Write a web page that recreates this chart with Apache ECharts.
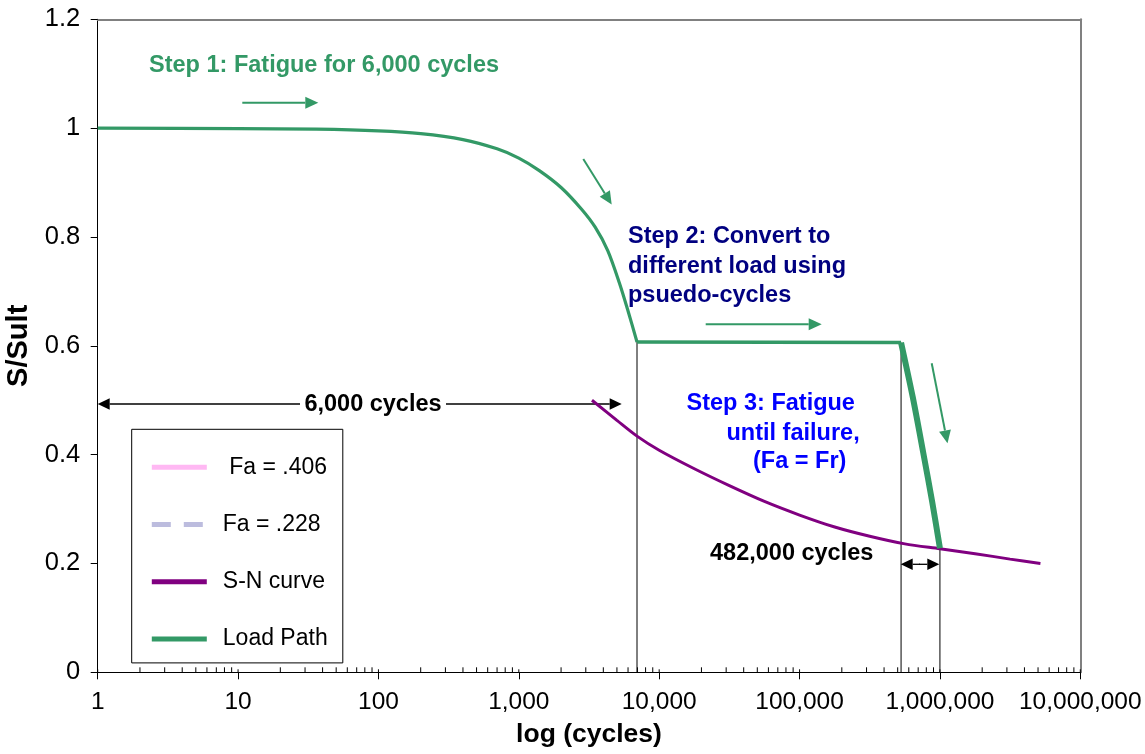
<!DOCTYPE html>
<html>
<head>
<meta charset="utf-8">
<title>Residual strength fatigue load path</title>
<script src="https://cdn.jsdelivr.net/npm/echarts@6/dist/echarts.min.js"></script>
<style>
  html, body { margin: 0; padding: 0; background: #ffffff; }
  #chart { width: 1145px; height: 754px; }
</style>
</head>
<body>
<div id="chart"></div>
<script>
const FONT = '"Liberation Sans", Arial, Helvetica, sans-serif';

// Axis tick labels
const xTickLabels = ['1', '10', '100', '1,000', '10,000', '100,000', '1,000,000', '10,000,000'];
const yTickLabels = ['0', '0.2', '0.4', '0.6', '0.8', '1', '1.2'];

// Load path, step 1: fatigue at the first load level (S/Sult = 1)
const step1Cycles = [1, 10, 36, 100, 200, 400, 700, 1000, 1400, 2000, 2800, 3500, 4300, 5200, 6000, 6950];
const step1Stress = [1.0, 0.999, 0.998, 0.995, 0.99, 0.979, 0.962, 0.945, 0.922, 0.891, 0.851, 0.818, 0.775, 0.716, 0.664, 0.607];

// Load path, step 2: conversion to the new load through pseudo-cycles
const step2Cycles = [6950, 528600];
const step2Stress = [0.607, 0.606];

// Load path, step 3: fatigue at the new load until failure
const step3Cycles = [528600, 640000, 760000, 880000, 1000000];
const step3Stress = [0.606, 0.506, 0.404, 0.314, 0.228];

// S-N curve
const snCycles = [3320, 5000, 6950, 10000, 17800, 31600, 56200, 100000, 178000, 316000, 562000, 1000000, 1780000, 3160000, 5200000];
const snStress = [0.500, 0.463, 0.434, 0.408, 0.374, 0.343, 0.314, 0.289, 0.267, 0.250, 0.236, 0.227, 0.218, 0.208, 0.200];

// Vertical guide lines dropped to the cycle axis
const guideCycles = [6950, 528600, 1000000];
const guideStress = [0.607, 0.606, 0.228];

const GREEN = '#339966';
const PURPLE = '#800080';

const zip = (xs, ys) => xs.map((x, i) => [x, ys[i]]);

const guideData = [];
guideCycles.forEach((c, i) => {
  if (i > 0) guideData.push(['-', '-']);
  guideData.push([c, guideStress[i]], [c, 0]);
});

// Tick marks on the inner side of the log axis: 2..9 within each decade, plus the decades
const innerTicks = [];
for (let d = 0; d < 7; d++) {
  for (let k = 2; k <= 9; k++) innerTicks.push([k * Math.pow(10, d), 0, 5]);
}
for (let d = 0; d <= 7; d++) innerTicks.push([Math.pow(10, d), 0, 3]);

function arrow(x1, y1, x2, y2, color, lw, len, half) {
  const a = Math.atan2(y2 - y1, x2 - x1);
  const bx = x2 - len * Math.cos(a), by = y2 - len * Math.sin(a);
  const nx = -Math.sin(a) * half, ny = Math.cos(a) * half;
  return [
    { type: 'line', silent: true, shape: { x1: x1, y1: y1, x2: bx, y2: by }, style: { stroke: color, lineWidth: lw } },
    { type: 'polygon', silent: true, shape: { points: [[x2, y2], [bx + nx, by + ny], [bx - nx, by - ny]] }, style: { fill: color } }
  ];
}

function label(text, x, y, color, align, extra) {
  return {
    type: 'text', silent: true, z: 10,
    style: Object.assign({
      text: text, x: x, y: y, fill: color,
      font: 'bold 23.5px ' + FONT,
      align: align || 'left', verticalAlign: 'middle'
    }, extra || {})
  };
}

const graphics = [].concat(
  arrow(242.3, 102.7, 318.3, 102.7, GREEN, 2, 13, 6),
  arrow(583.3, 159, 611.7, 204.5, GREEN, 2, 13, 6),
  arrow(705.7, 324.3, 821.7, 324.3, GREEN, 2, 13, 6),
  arrow(931.7, 363.3, 947.5, 443.3, GREEN, 2, 13, 6),
  arrow(300, 404, 97.7, 404, '#000', 1.3, 12, 5.8),
  arrow(446, 404, 621.7, 404, '#000', 1.3, 12, 5.8),
  arrow(920, 564.3, 900.7, 564.3, '#000', 1.3, 12, 5.8),
  arrow(919, 564.3, 939.3, 564.3, '#000', 1.3, 12, 5.8),
  [
    label('Step 1: Fatigue for 6,000 cycles', 149, 66, GREEN),
    label('Step 2: Convert to\ndifferent load using\npsuedo-cycles', 628, 222, '#000080', 'left',
      { verticalAlign: 'top', lineHeight: 29.5 }),
    label('Step 3: Fatigue', 686.5, 404, '#0000FF'),
    label('until failure,', 726.5, 433.3, '#0000FF'),
    label('(Fa = Fr)', 753, 461.7, '#0000FF'),
    label('6,000 cycles', 373, 405, '#000', 'center'),
    label('482,000 cycles', 710, 553.3, '#000')
  ]
);

const chart = echarts.init(document.getElementById('chart'), null, { renderer: 'canvas' });

chart.setOption({
  animation: false,
  backgroundColor: '#ffffff',
  grid: { left: 97.7, right: 64.7, top: 19.3, bottom: 81.7, containLabel: false, outerBoundsMode: 'none' },
  legend: {
    data: [' Fa = .406', 'Fa = .228', 'S-N curve', 'Load Path'],
    orient: 'vertical',
    left: 131.7, top: 429.3,
    padding: [26, 14, 12, 17.6],
    itemGap: 33.2,
    itemWidth: 55, itemHeight: 14,
    selectedMode: false,
    borderColor: '#000', borderWidth: 1, borderRadius: 0,
    backgroundColor: '#ffffff',
    itemStyle: { opacity: 0, borderWidth: 0 },
    lineStyle: { width: 5 },
    textStyle: { fontFamily: FONT, fontSize: 23, color: '#000', lineHeight: 24, width: 106, padding: [0, 0, 0, 11] }
  },
  xAxis: [
    {
      type: 'log', logBase: 10, min: 1, max: 10000000,
      name: 'log (cycles)', nameLocation: 'middle', nameGap: 49,
      nameTextStyle: { fontFamily: FONT, fontWeight: 'bold', fontSize: 26.5, color: '#000' },
      axisLine: { show: true, onZero: false, lineStyle: { color: '#000', width: 1 } },
      axisTick: { show: true, inside: false, length: 7, lineStyle: { color: '#000', width: 1 } },
      axisLabel: {
        fontFamily: FONT, fontSize: 24.5, color: '#000', margin: 17,
        showMinLabel: true, showMaxLabel: true,
        formatter: v => xTickLabels[Math.round(Math.log10(v))]
      },
      splitLine: { show: false }, minorTick: { show: false }
    },
    {
      type: 'log', logBase: 10, min: 1, max: 10000000, position: 'top',
      axisLine: { show: true, onZero: false, lineStyle: { color: '#808080', width: 2 } },
      axisTick: { show: false }, axisLabel: { show: false }, splitLine: { show: false }
    }
  ],
  yAxis: [
    {
      type: 'value', min: 0, max: 1.2, interval: 0.2,
      name: 'S/Sult', nameLocation: 'middle', nameGap: 62, nameRotate: 90,
      nameTextStyle: { fontFamily: FONT, fontWeight: 'bold', fontSize: 29, color: '#000' },
      axisLine: { show: true, onZero: false, lineStyle: { color: '#000', width: 1 } },
      axisTick: { show: true, inside: false, length: 7, lineStyle: { color: '#000', width: 1 } },
      axisLabel: {
        fontFamily: FONT, fontSize: 25.5, color: '#000', margin: 17.5,
        formatter: v => yTickLabels[Math.round(v / 0.2)]
      },
      splitLine: { show: false }
    },
    {
      type: 'value', min: 0, max: 1.2, interval: 0.2, position: 'right',
      axisLine: { show: true, onZero: false, lineStyle: { color: '#808080', width: 2 } },
      axisTick: { show: false }, axisLabel: { show: false }, splitLine: { show: false }
    }
  ],
  graphic: graphics,
  series: [
    {
      name: ' Fa = .406', type: 'line', data: [], symbol: 'none',
      lineStyle: { color: '#FFB8F3', width: 3 }, itemStyle: { color: '#FFB8F3' }
    },
    {
      name: 'Fa = .228', type: 'line', data: [], symbol: 'none',
      lineStyle: { color: '#BCBCDE', width: 3, type: [19, 13] }, itemStyle: { color: '#BCBCDE' }
    },
    {
      name: 'guides', type: 'line', data: guideData, symbol: 'none', silent: true,
      lineStyle: { color: '#000', width: 1 }, z: 1
    },
    {
      type: 'custom', name: 'inner ticks', silent: true, clip: false, z: 3,
      data: innerTicks,
      renderItem: (params, api) => {
        const p = api.coord([api.value(0), 0]);
        const len = api.value(2);
        return {
          type: 'line',
          shape: { x1: p[0], y1: p[1], x2: p[0], y2: p[1] - len },
          style: { stroke: '#000', lineWidth: 1 }
        };
      }
    },
    {
      name: 'S-N curve', type: 'line', data: zip(snCycles, snStress), symbol: 'none',
      smooth: 0.3, lineStyle: { color: PURPLE, width: 3 }, itemStyle: { color: PURPLE }, z: 3
    },
    {
      name: 'Load Path', type: 'line', data: zip(step1Cycles, step1Stress), symbol: 'none',
      smooth: 0.3, lineStyle: { color: GREEN, width: 3.2 }, itemStyle: { color: GREEN }, z: 4
    },
    {
      name: 'Load Path', type: 'line', data: zip(step2Cycles, step2Stress), symbol: 'none',
      lineStyle: { color: GREEN, width: 3.4 }, itemStyle: { color: GREEN }, z: 4
    },
    {
      name: 'Load Path', type: 'line', data: zip(step3Cycles, step3Stress), symbol: 'none',
      smooth: 0.3, lineStyle: { color: GREEN, width: 6 }, itemStyle: { color: GREEN }, z: 4
    }
  ]
});
</script>
</body>
</html>
